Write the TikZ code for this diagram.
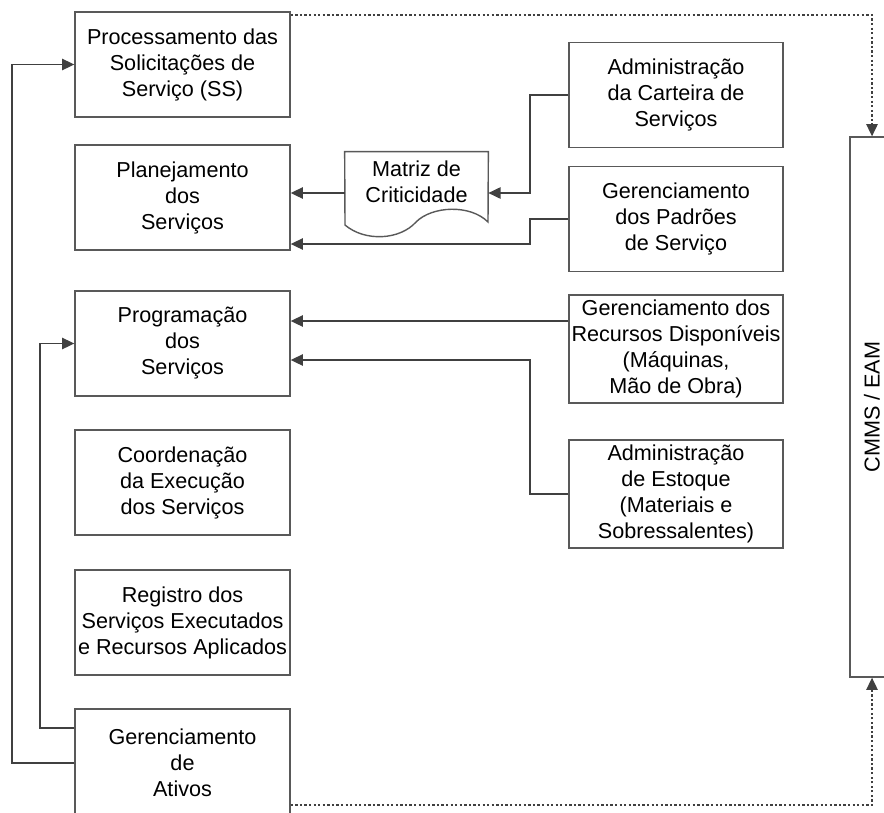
\documentclass[tikz,border=0pt]{standalone}
\usepackage{fontspec}
\setmainfont{Liberation Sans}
\usepackage{tikz}
\usetikzlibrary{arrows.meta}

\begin{document}
\begin{tikzpicture}[x=0.02cm, y=-0.02cm,
  box/.style={draw=black!65, line width=0.8pt, align=center, inner sep=1pt,
    minimum width=4.3cm, minimum height=2.1cm, font=\fontsize{12.3}{14.8}\selectfont},
  rbox/.style={box, minimum width=4.28cm},
  arr/.style={draw=black!75, line width=0.85pt, -{Triangle[length=7pt, width=6.5pt]}},
  dotarr/.style={arr, dash pattern=on 1.3pt off 1.3pt}]
\useasboundingbox (0,0) rectangle (884,812);
\node[box] (proc) at (182.5,64.5) {Processamento das\\Solicitações de\\Serviço (SS)};
\node[box] (plan) at (182.5,197.5) {Planejamento\\dos\\Serviços};
\node[box] (prog) at (182.5,343.5) {Programação\\dos\\Serviços};
\node[box] (coord) at (182.5,482.5) {Coordenação\\da Execução\\dos Serviços};
\node[box] (reg) at (182.5,622.5) {Registro dos\\Serviços Executados\\e Recursos Aplicados};
\node[box, minimum height=2.14cm] (ativ) at (182.5,762.5) {Gerenciamento\\de\\Ativos};
\node[rbox] (cart) at (676,95) {Administração\\da Carteira de\\Serviços};
\node[rbox] (padr) at (676,219) {Gerenciamento\\dos Padrões\\de Serviço};
\node[rbox, minimum height=2.16cm] (recu) at (676,349) {Gerenciamento dos\\Recursos Disponíveis\\(Máquinas,\\Mão de Obra)};
\node[rbox, minimum height=2.16cm] (esto) at (676,494) {Administração\\de Estoque\\(Materiais e\\Sobressalentes)};
\node[draw=black!65, line width=0.8pt, minimum width=0.88cm, minimum height=10.8cm,
  font=\fontsize{12.3}{14.8}\selectfont] (cmms) at (872,407) {\rotatebox{90}{CMMS / EAM}};
\node[align=center, inner sep=0pt, minimum width=2.86cm, minimum height=1.2cm,
  font=\fontsize{12.3}{14.8}\selectfont] (mat) at (416.5,182) {Matriz de\\Criticidade};
\draw[black!65, line width=0.8pt] (mat.north west) -- (mat.north east) -- (488,222)
  .. controls (470,204) and (432,206) .. (416,222)
  .. controls (400,240) and (365,242) .. (345,225) -- cycle;
\draw[arr] (cart.west) -- (530,95) |- ([yshift=-0.22cm]mat.east);
\draw[arr] ([yshift=-0.22cm]mat.west) -- ([yshift=-0.22cm]mat.west -| plan.east);
\draw[arr] (padr.west) -- (530,219) |- (plan.east |- 0,244);
\draw[arr] (recu.west |- 0,321) -- (prog.east |- 0,321);
\draw[arr] (esto.west) -- (530,494) |- (prog.east |- 0,360);
\draw[arr] (ativ.west |- 0,763) -- (12,763) |- (proc.west);
\draw[arr] (ativ.west |- 0,728) -- (40,728) |- (prog.west);
\draw[dotarr] (proc.east |- 0,15) -| (cmms.north);
\draw[dotarr] (ativ.east |- 0,805) -| (cmms.south);
\end{tikzpicture}
\end{document}
